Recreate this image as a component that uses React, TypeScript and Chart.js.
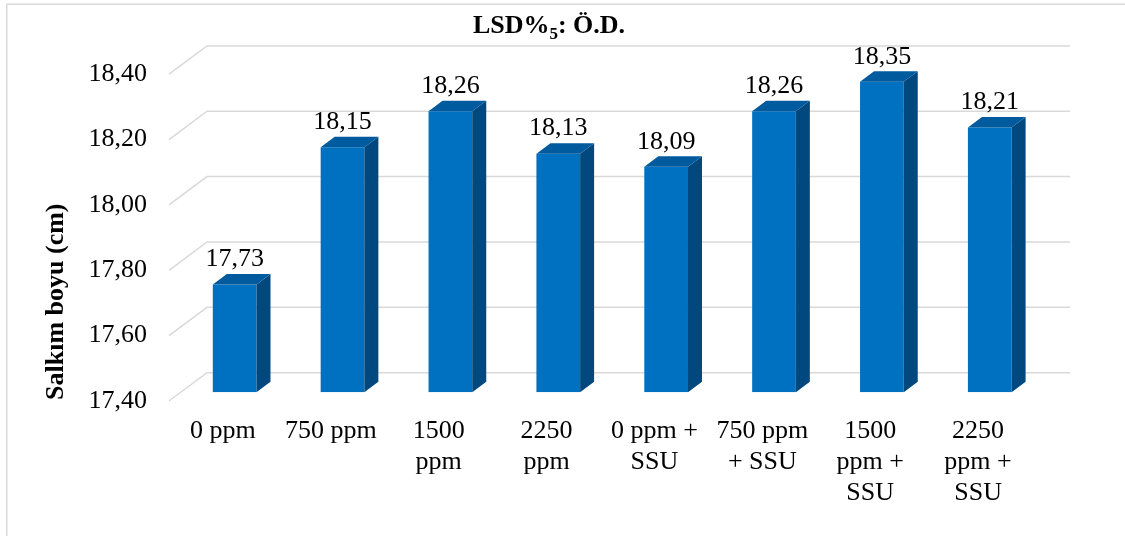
import React, { useEffect, useRef } from "react";
import { Chart, registerables } from "chart.js";

Chart.register(...registerables);

// Treatment groups (multi-line axis labels)
const categories: string[][] = [
  ["0 ppm"],
  ["750 ppm"],
  ["1500", "ppm"],
  ["2250", "ppm"],
  ["0 ppm +", "SSU"],
  ["750 ppm", "+ SSU"],
  ["1500", "ppm +", "SSU"],
  ["2250", "ppm +", "SSU"],
];

// Cluster length (cm)
const clusterLength: number[] = [17.73, 18.15, 18.26, 18.13, 18.09, 18.26, 18.35, 18.21];

const yMin = 17.4;
const yMax = 18.4;
const yStep = 0.2;

const FONT = '"Liberation Serif", "Times New Roman", serif';
const FRONT = "#0070C0";
const TOP = "#005A9E";
const SIDE = "#00487E";
const GRID = "#D9D9D9";

// Perspective offsets relative to the plane of the bar fronts
const BACK_DX = 26.3;
const BACK_DY = -19.6;
const FRONT_DX = -11.7;
const FRONT_DY = 8.7;
const BAR_DX = 14;
const BAR_DY = -10.5;

const fmt = (v: number) => v.toFixed(2).replace(".", ",");

const threeD = {
  id: "threeD",
  beforeDatasetsDraw(chart: any) {
    const { ctx, chartArea, scales } = chart;
    const y = scales.y;
    ctx.save();
    ctx.strokeStyle = GRID;
    ctx.lineWidth = 1.5;
    for (let v = yMin; v <= yMax + 1e-9; v += yStep) {
      const py = y.getPixelForValue(v);
      ctx.beginPath();
      ctx.moveTo(chartArea.left + FRONT_DX, py + FRONT_DY);
      ctx.lineTo(chartArea.left + BACK_DX, py + BACK_DY);
      ctx.lineTo(chartArea.right + BACK_DX, py + BACK_DY);
      ctx.stroke();
    }
    ctx.restore();
  },
  afterDatasetsDraw(chart: any) {
    const { ctx } = chart;
    const meta = chart.getDatasetMeta(0);
    const b = chart.scales.y.getPixelForValue(yMin);
    ctx.save();
    meta.data.forEach((el: any, i: number) => {
      const half = el.width / 2;
      const l = el.x - half;
      const r = el.x + half;
      const t = el.y;
      // side face
      ctx.fillStyle = SIDE;
      ctx.beginPath();
      ctx.moveTo(r, t);
      ctx.lineTo(r + BAR_DX, t + BAR_DY);
      ctx.lineTo(r + BAR_DX, b + BAR_DY);
      ctx.lineTo(r, b);
      ctx.closePath();
      ctx.fill();
      // top face
      ctx.fillStyle = TOP;
      ctx.beginPath();
      ctx.moveTo(l, t);
      ctx.lineTo(l + BAR_DX, t + BAR_DY);
      ctx.lineTo(r + BAR_DX, t + BAR_DY);
      ctx.lineTo(r, t);
      ctx.closePath();
      ctx.fill();
      // value label
      ctx.fillStyle = "#000";
      ctx.font = `26px ${FONT}`;
      ctx.textAlign = "center";
      ctx.textBaseline = "alphabetic";
      ctx.fillText(fmt(clusterLength[i]), el.x, t - 18.3);
    });
    ctx.restore();
  },
  afterDraw(chart: any) {
    const { ctx } = chart;
    ctx.save();
    // chart frame
    ctx.strokeStyle = GRID;
    ctx.lineWidth = 1.5;
    ctx.beginPath();
    ctx.moveTo(6.75, 540);
    ctx.lineTo(6.75, 4.25);
    ctx.lineTo(1130, 4.25);
    ctx.stroke();

    // title with subscript
    ctx.fillStyle = "#000";
    ctx.textBaseline = "alphabetic";
    ctx.textAlign = "left";
    const big = `bold 26px ${FONT}`;
    const small = `bold 17px ${FONT}`;
    const parts = [
      { t: "LSD%", f: big, dy: 0 },
      { t: "5", f: small, dy: 6 },
      { t: ": Ö.D.", f: big, dy: 0 },
    ];
    let total = 0;
    parts.forEach((p) => {
      ctx.font = p.f;
      total += ctx.measureText(p.t).width;
    });
    let x = 549 - total / 2;
    parts.forEach((p) => {
      ctx.font = p.f;
      ctx.fillText(p.t, x, 33.3 + p.dy);
      x += ctx.measureText(p.t).width;
    });

    // y-axis title
    ctx.translate(63, 301.7);
    ctx.rotate(-Math.PI / 2);
    ctx.font = `bold 26px ${FONT}`;
    ctx.textAlign = "center";
    ctx.fillText("Salkım boyu (cm)", 0, 0);
    ctx.restore();
  },
};

export default function App() {
  const ref = useRef<HTMLCanvasElement>(null);

  useEffect(() => {
    if (!ref.current) return;
    const chart = new Chart(ref.current, {
      type: "bar",
      data: {
        labels: categories,
        datasets: [
          {
            data: clusterLength,
            base: yMin,
            backgroundColor: FRONT,
            borderWidth: 0,
            categoryPercentage: 1,
            barPercentage: 0.405,
          },
        ],
      },
      options: {
        animation: false,
        responsive: false,
        devicePixelRatio: 1,
        layout: { padding: { top: 65.5, right: 81.3, left: 0, bottom: 0 } },
        plugins: {
          legend: { display: false },
          tooltip: { enabled: false },
          title: { display: false },
        },
        scales: {
          x: {
            grid: { display: false, drawTicks: false },
            border: { display: false },
            ticks: {
              color: "#000",
              font: { family: FONT, size: 26, lineHeight: 1.2 },
              maxRotation: 0,
              minRotation: 0,
              autoSkip: false,
              padding: 23,
              labelOffset: FRONT_DX,
            },
            afterFit(scale: any) {
              scale.height = 143.7;
            },
          },
          y: {
            min: yMin,
            max: yMax,
            grid: { display: false, drawTicks: false },
            border: { display: false },
            ticks: {
              stepSize: yStep,
              color: "#000",
              font: { family: FONT, size: 26 },
              padding: 33.7,
              labelOffset: 8.7,
              callback: (v: any) => fmt(Number(v)),
            },
            afterFit(scale: any) {
              scale.width = 180.7;
            },
          },
        },
      },
      plugins: [threeD],
    });
    return () => chart.destroy();
  }, []);

  return (
    <div style={{ position: "absolute", left: 0, top: 0, width: 1125, height: 536, background: "#fff" }}>
      <canvas ref={ref} width={1125} height={536} style={{ display: "block" }} />
    </div>
  );
}
